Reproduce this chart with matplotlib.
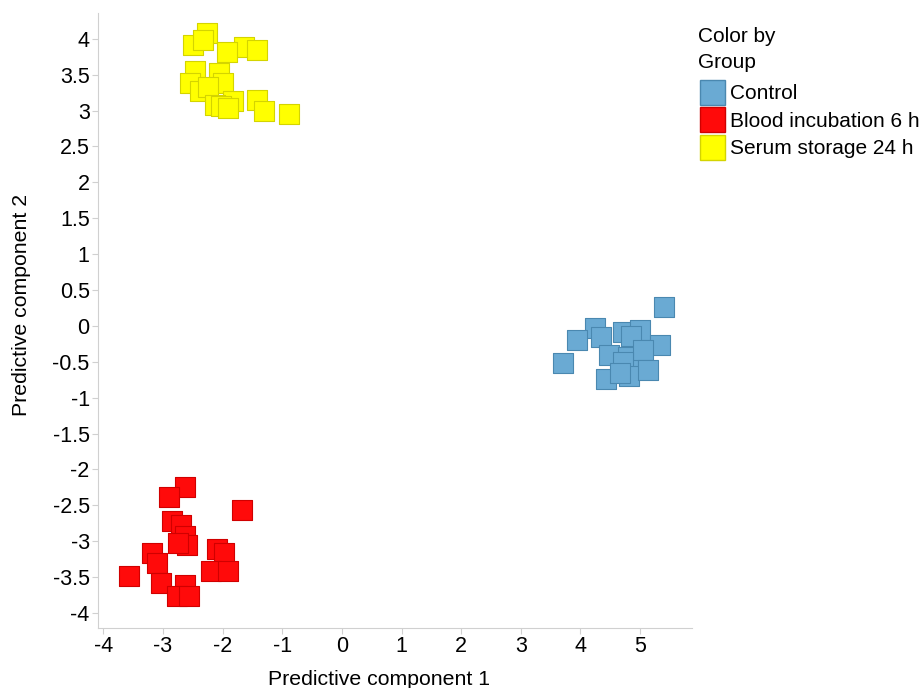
import numpy as np
import matplotlib
matplotlib.use('Agg')
import matplotlib.pyplot as plt
from matplotlib.lines import Line2D

plt.rcParams['font.family'] = ['Liberation Sans', 'DejaVu Sans']

# Datos (componentes predictivas)
grupos = ['Control', 'Blood incubation 6 h', 'Serum storage 24 h']

control_x = [5.40, 4.25, 3.94, 3.70, 4.34, 4.71, 4.99, 4.84, 5.34, 4.47, 4.79, 5.04, 4.72, 4.82, 5.14, 4.43, 4.66]
control_y = [0.26, -0.03, -0.20, -0.52, -0.15, -0.08, -0.06, -0.14, -0.26, -0.40, -0.43, -0.33, -0.50, -0.70, -0.61, -0.74, -0.66]

sangre_x = [-2.63, -2.90, -1.67, -2.85, -2.69, -2.63, -2.60, -2.75, -3.18, -2.10, -1.98, -3.10, -3.57, -2.19, -1.91, -3.03, -2.63, -2.77, -2.56]
sangre_y = [-2.25, -2.38, -2.57, -2.72, -2.77, -2.93, -3.06, -3.02, -3.17, -3.11, -3.16, -3.30, -3.49, -3.41, -3.41, -3.58, -3.61, -3.77, -3.77]

suero_x = [-2.27, -2.50, -2.33, -1.64, -1.43, -1.93, -2.47, -2.06, -2.54, -2.00, -2.38, -2.24, -1.83, -2.13, -2.02, -1.91, -1.43, -1.31, -0.88]
suero_y = [4.08, 3.92, 3.99, 3.89, 3.84, 3.81, 3.55, 3.53, 3.38, 3.39, 3.27, 3.33, 3.13, 3.08, 3.07, 3.03, 3.15, 2.99, 2.95]

x_ticks = np.arange(-4, 6, 1)
y_ticks = np.arange(-4, 4.5, 0.5)

# Estilos
colores = ['#6aaad3', '#ff0a0a', '#ffff00']
bordes = ['#4a88b0', '#d00000', '#d4d400']
gris = '#d0d0d0'

fig = plt.figure(figsize=(9.24, 6.88), dpi=100, facecolor='w')
ax = fig.add_axes([98/924, 1 - 628/688, 594/924, 615/688])

series = [(control_x, control_y), (sangre_x, sangre_y), (suero_x, suero_y)]
for (xs, ys), c, b in zip(series, colores, bordes):
    ax.scatter(xs, ys, marker='s', s=215, facecolor=c, edgecolor=b, linewidth=0.8)

ax.set_xlim(-4.09, 5.87)
ax.set_ylim(-4.21, 4.36)
ax.set_xticks(x_ticks)
ax.set_yticks(y_ticks)
ax.set_xticklabels([f'{v:g}' for v in x_ticks])
ax.set_yticklabels([f'{v:g}' for v in y_ticks])
ax.tick_params(labelsize=15.5, color=gris, length=4, width=0.8, pad=2)

for lado in ['top', 'right']:
    ax.spines[lado].set_visible(False)
for lado in ['left', 'bottom']:
    ax.spines[lado].set_color(gris)

ax.set_xlabel('Predictive component 1', fontsize=15.3)
ax.set_ylabel('Predictive component 2', fontsize=15.3)
ax.xaxis.set_label_coords(0.473, -0.068)
ax.yaxis.set_label_coords(-0.112, 0.525)

handles = [Line2D([], [], linestyle='none', marker='s', markersize=18,
                  markerfacecolor=c, markeredgecolor=b) for c, b in zip(colores, bordes)]
leg = fig.legend(handles, grupos, title='Color by\nGroup', loc='upper left',
                 bbox_to_anchor=(698/924, 1 - 27/688), frameon=False, fontsize=15,
                 title_fontsize=15, handletextpad=0.24, labelspacing=0.4,
                 handlelength=1.3, borderaxespad=0, borderpad=0)
leg._legend_box.align = 'left'
leg._legend_box.sep = 9
leg.get_title().set_linespacing(1.45)

fig.savefig('out.png', dpi=100)
